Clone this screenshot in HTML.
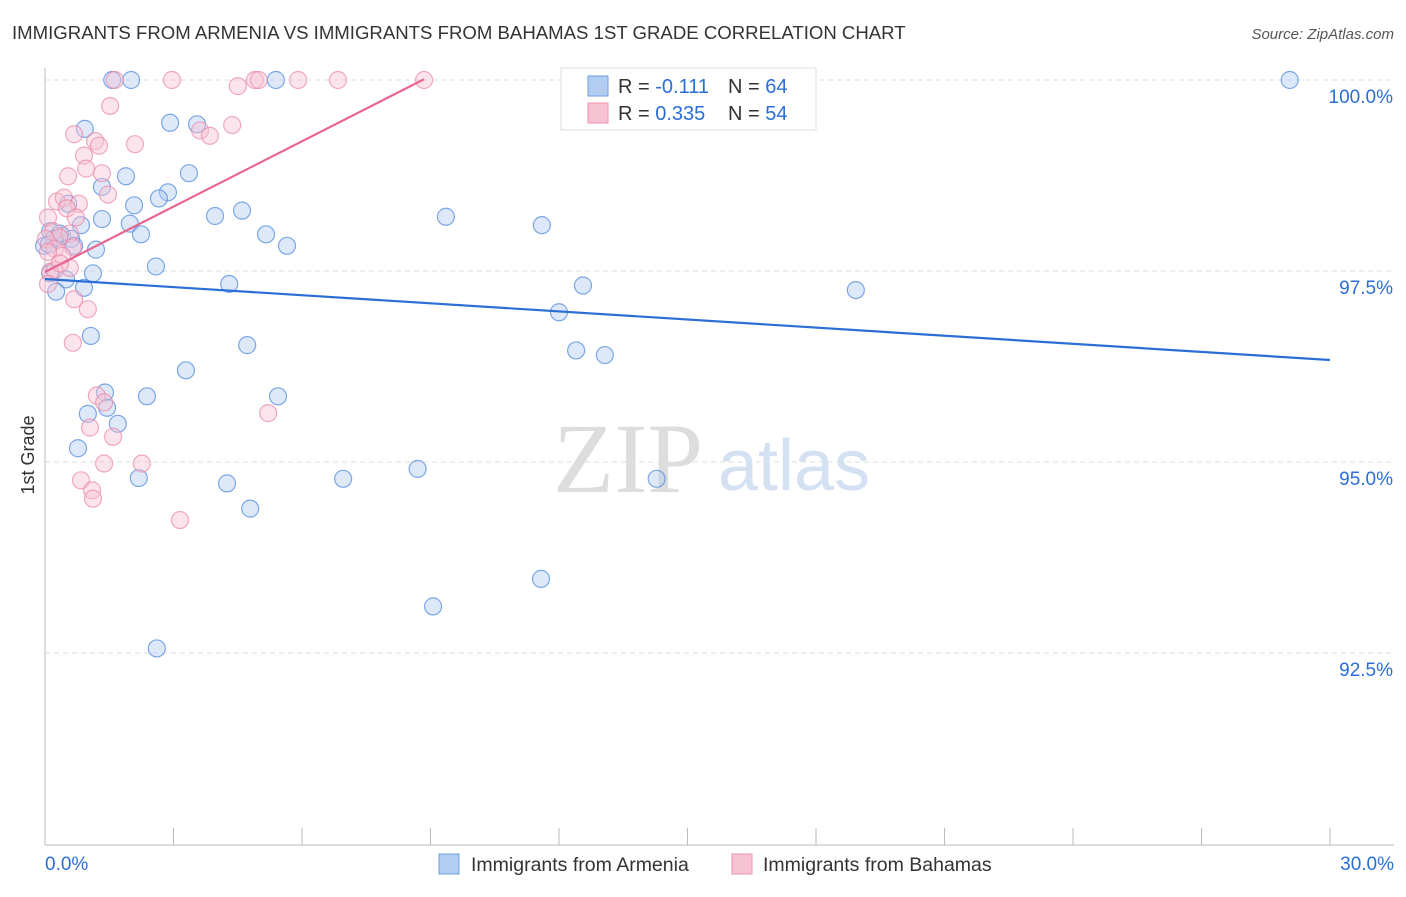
<!DOCTYPE html>
<html><head><meta charset="utf-8"><style>
body{margin:0;background:#fff;}
</style></head><body>
<svg id="chart" width="1406" height="892" style="font-family:'Liberation Sans',sans-serif">
<text x="12" y="39" font-size="18.6" fill="#333">IMMIGRANTS FROM ARMENIA VS IMMIGRANTS FROM BAHAMAS 1ST GRADE CORRELATION CHART</text>
<text x="1394" y="39" font-size="15" fill="#555" font-style="italic" text-anchor="end">Source: ZipAtlas.com</text>
<text x="34" y="455" font-size="18" fill="#333" transform="rotate(-90 34 455)" text-anchor="middle">1st Grade</text>
<g id="grid"></g>
<text x="553" y="492" font-size="100" fill="#ddd" style="font-family:'Liberation Serif',serif">ZIP</text>
<text x="718" y="490" font-size="72" fill="#d4e1f3">atlas</text>
<g id="pts"></g>
<g id="lines"></g>
<g>
<rect x="561" y="68" width="255" height="62" fill="#fff" stroke="#ddd"/>
<rect x="588" y="76" width="20" height="20" fill="#b3cdf2" stroke="#6f9ee0"/>
<text x="618" y="93" font-size="20" fill="#333">R = <tspan fill="#2b6fd6">-0.111</tspan></text>
<text x="728" y="93" font-size="20" fill="#333">N = <tspan fill="#2b6fd6">64</tspan></text>
<rect x="588" y="103" width="20" height="20" fill="#f7c3d3" stroke="#eb93b0"/>
<text x="618" y="120" font-size="20" fill="#333">R = <tspan fill="#2b6fd6">0.335</tspan></text>
<text x="728" y="120" font-size="20" fill="#333">N = <tspan fill="#2b6fd6">54</tspan></text>
</g>
<g>
<rect x="439" y="854" width="20" height="20" fill="#b3cdf2" stroke="#6f9ee0"/>
<text x="471" y="871" font-size="19.5" fill="#333">Immigrants from Armenia</text>
<rect x="732" y="854" width="20" height="20" fill="#f7c3d3" stroke="#eb93b0"/>
<text x="763" y="871" font-size="19.5" fill="#333">Immigrants from Bahamas</text>
</g>
<text x="45" y="870" font-size="19" fill="#2b6fd6">0.0%</text>
<text x="1394" y="870" font-size="19" fill="#2b6fd6" text-anchor="end">30.0%</text>
</svg>
<script>
const yTicks=[100,97.5,95,92.5];
const yTickLabels=["100.0%","97.5%","95.0%","92.5%"];
const xTicks=[0,3,6,9,12,15,18,21,24,27,30];
const armeniaX=[1.57,2.01,5.39,29.06,0.93,2.92,3.55,3.36,1.89,1.33,2.87,2.66,0.54,2.08,3.97,4.6,9.36,11.6,1.33,1.98,0.84,0.12,0.4,0.61,0.68,1.19,2.24,5.16,5.65,0.21,2.59,1.12,4.3,0.49,0.91,0.26,12.56,18.93,12.0,1.07,4.72,12.4,13.07,3.29,1.4,2.38,5.44,1.45,1.0,1.7,0.77,2.19,4.25,6.96,8.7,14.28,4.79,11.58,9.06,2.61,0.12,-0.02,0.35,0.09];
const armeniaY=[100,100,100,100,99.36,99.44,99.42,98.78,98.74,98.6,98.53,98.45,98.38,98.36,98.22,98.29,98.21,98.1,98.18,98.12,98.1,98.02,97.96,97.92,97.83,97.78,97.98,97.98,97.83,97.92,97.56,97.47,97.33,97.39,97.28,97.23,97.31,97.25,96.96,96.65,96.53,96.46,96.4,96.2,95.91,95.86,95.86,95.71,95.63,95.5,95.18,94.79,94.72,94.78,94.91,94.78,94.39,93.47,93.11,92.56,97.47,97.83,97.99,97.85];
const bahamasX=[1.63,2.96,4.5,4.9,4.99,5.91,6.84,8.85,1.52,0.68,3.62,3.85,4.37,1.17,1.26,2.1,0.91,0.96,1.33,0.54,1.47,0.28,0.44,0.79,0.51,0.72,0.07,0.19,0.58,0.33,0.02,0.23,0.65,0.4,0.12,0.58,0.23,0.07,0.68,1.0,0.65,1.21,1.38,1.05,1.59,1.38,2.26,0.84,1.1,1.12,3.15,5.21,0.07,0.35];
const bahamasY=[100,100,99.92,100,100,100,100,100,99.66,99.29,99.34,99.27,99.41,99.2,99.14,99.16,99.01,98.84,98.78,98.74,98.5,98.41,98.46,98.38,98.32,98.2,98.2,98.02,97.99,97.94,97.92,97.79,97.81,97.7,97.49,97.54,97.51,97.33,97.13,97.0,96.56,95.87,95.78,95.45,95.33,94.98,94.98,94.76,94.63,94.52,94.24,95.64,97.75,97.6];
const armeniaFit=[97.395,96.335];
const bahamasFit=[97.487,100.01,8.848];
const NS="http://www.w3.org/2000/svg";
const X0=45,X1=1330,Y100=80,PX=191/2.5;
function sx(v){return X0+(X1-X0)*v/30;}
function sy(v){return Y100+(100-v)*PX;}
function mk(tag,attrs,parent){const e=document.createElementNS(NS,tag);for(const k in attrs)e.setAttribute(k,attrs[k]);parent.appendChild(e);return e;}
const grid=document.getElementById('grid');
let ax=mk('line',{x1:X0,y1:68,x2:X0,y2:845,stroke:'#bbb'},grid);


let bx=mk('line',{x1:X0,y1:845,x2:1394,y2:845,stroke:'#bbb'},grid);


yTicks.forEach((t,i)=>{
 const g=mk('line',{x1:X0,y1:sy(t),x2:1394,y2:sy(t),stroke:'#ddd','stroke-dasharray':'5,4'},grid);
 
 
 const tx=mk('text',{x:1393,y:sy(t)+23,'font-size':19,fill:'#2b6fd6','text-anchor':'end'},grid);
 tx.textContent=yTickLabels[i];
 
 
});
xTicks.forEach(t=>{
 const l=mk('line',{x1:sx(t),y1:828,x2:sx(t),y2:845,stroke:'#bbb'},grid);
 
 
});
const pts=document.getElementById('pts');
function series(xs,ys,fill,stroke,name){
 xs.forEach((x,i)=>{
  const c=mk('circle',{cx:sx(x),cy:sy(ys[i]),r:8.5,fill:fill,'fill-opacity':0.45,stroke:stroke,'stroke-opacity':0.7,'stroke-width':1.2},pts);
  
  
 });
}
series(armeniaX,armeniaY,'#b3cdf2','#4a86dc','armenia-point');
series(bahamasX,bahamasY,'#f7c3d3','#ea88a8','bahamas-point');
const lines=document.getElementById('lines');
let la=mk('line',{x1:sx(0),y1:sy(armeniaFit[0]),x2:sx(30),y2:sy(armeniaFit[1]),stroke:'#2b6fd6','stroke-width':2.2},lines);


let lb=mk('line',{x1:sx(0),y1:sy(bahamasFit[0]),x2:sx(bahamasFit[2]),y2:sy(bahamasFit[1]),stroke:'#e8668f','stroke-width':2.2},lines);


</script>
</body></html>
